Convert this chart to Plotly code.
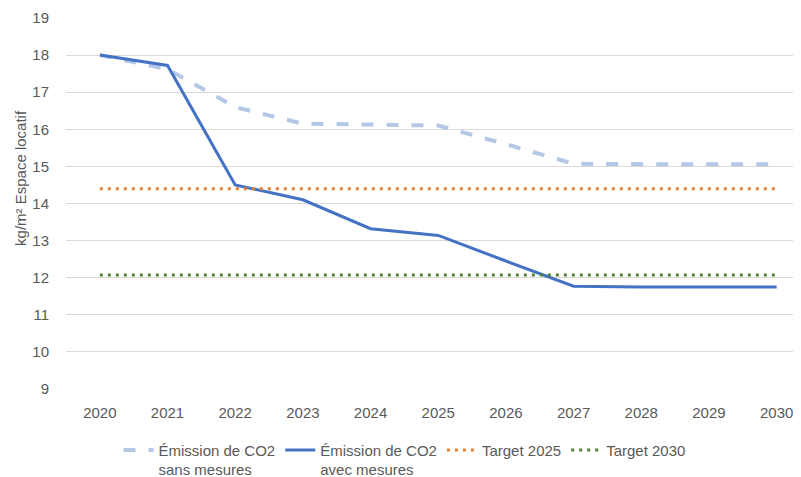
import plotly.graph_objects as go

years = [2020, 2021, 2022, 2023, 2024, 2025, 2026, 2027, 2028, 2029, 2030]
sans_mesures = [18.0, 17.62, 16.6, 16.15, 16.13, 16.1, 15.6, 15.07, 15.06, 15.06, 15.06]
avec_mesures = [18.0, 17.72, 14.5, 14.1, 13.32, 13.14, 12.45, 11.77, 11.75, 11.75, 11.75]
target_2025 = [14.4] * len(years)
target_2030 = [12.07] * len(years)

FONT = "Liberation Sans"
GREY = "#595959"

fig = go.Figure()
fig.add_trace(go.Scatter(
    x=years, y=sans_mesures, mode="lines",
    name="Émission de CO2<br>sans mesures",
    line=dict(color="#B4C7E7", width=4, dash="12px,13px"),
))
fig.add_trace(go.Scatter(
    x=years, y=avec_mesures, mode="lines",
    name="Émission de CO2<br>avec mesures",
    line=dict(color="#4472C4", width=3),
))
fig.add_trace(go.Scatter(
    x=years, y=target_2025, mode="lines",
    name="Target 2025",
    line=dict(color="#ED7D31", width=3, dash="3px,5px"),
))
fig.add_trace(go.Scatter(
    x=years, y=target_2030, mode="lines",
    name="Target 2030",
    line=dict(color="#548235", width=3, dash="3px,5px"),
))

# the page body keeps the browser's 8px margin, so the figure is 8px smaller
fig.update_layout(
    width=793, height=469,
    margin=dict(l=58, r=0, t=10, b=88, autoexpand=False),
    paper_bgcolor="white", plot_bgcolor="white",
    font=dict(family=FONT, size=15, color=GREY),
    showlegend=True,
    legend=dict(
        orientation="h", xref="container", yref="container",
        x=0.5, xanchor="center", y=0.092, yanchor="top",
        font=dict(size=15, color=GREY), valign="top",
        tracegroupgap=0, itemwidth=30,
    ),
    xaxis=dict(
        # the plot area runs past the right edge of the picture
        range=[2019.5, 2030.36], tickvals=years, ticktext=[str(y) for y in years],
        showgrid=False, zeroline=False, showline=False, ticks="",
        ticklabelstandoff=13,
    ),
    yaxis=dict(
        range=[9, 19], dtick=1, showgrid=True, gridcolor="#D9D9D9", gridwidth=1,
        zeroline=False, showline=False, ticks="", ticklabelstandoff=16,
    ),
    annotations=[dict(
        text="kg/m² Espace locatif", textangle=-90,
        xref="paper", yref="paper", x=-0.062, y=0.57,
        xanchor="center", yanchor="middle", showarrow=False,
        font=dict(size=15, color=GREY),
    )],
)

fig.write_html("out.html")
